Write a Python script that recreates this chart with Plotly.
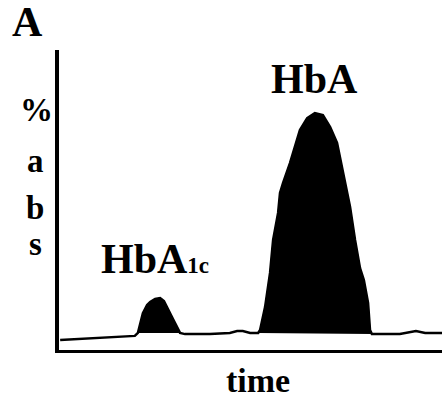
import plotly.graph_objects as go

# Chromatogram trace (time in arbitrary units, absorbance in %)
time = [0.3, 10.7, 19.8, 20.6, 21.4, 21.9, 23.0, 23.8, 25.1, 26.4, 27.4, 28.5, 29.5, 30.3, 31.1, 31.6,
        32.9, 39.4, 44.6, 46.5, 48.0, 49.9, 52.0, 52.5, 53.8, 55.1, 55.9, 57.2, 57.7, 58.5, 60.3,
        62.9, 64.8, 66.8, 68.9, 70.8, 72.6, 74.2, 76.0, 77.3, 78.6, 79.6, 80.7, 81.2, 81.7,
        89.0, 91.6, 93.2, 95.6, 100.0]
absorbance = [3.3, 4.0, 4.7, 5.7, 9.3, 12.3, 15.0, 16.0, 17.0, 17.3, 16.3, 13.3, 11.0, 9.0, 6.7, 5.7,
              5.3, 5.3, 5.7, 6.3, 6.3, 5.7, 5.7, 6.7, 14.3, 25.7, 36.7, 45.7, 52.3, 55.7, 62.3,
              73.3, 77.3, 79.0, 78.3, 74.3, 69.0, 59.0, 47.7, 36.7, 27.3, 23.3, 15.7, 6.7, 5.3,
              5.3, 6.0, 6.3, 5.7, 5.7]

peak_names = ["HbA1c", "HbA"]
peak_windows = [(20.6, 31.6), (52.0, 81.7)]

FONT = "Liberation Serif"

fig = go.Figure()
for (t0, t1) in peak_windows:
    px = [t for t in time if t0 <= t <= t1]
    py = [a for t, a in zip(time, absorbance) if t0 <= t <= t1]
    fig.add_trace(go.Scatter(x=px, y=py, mode="lines", fill="toself",
                             fillcolor="black", line=dict(color="black", width=1),
                             hoverinfo="skip", showlegend=False))
fig.add_trace(go.Scatter(x=time, y=absorbance, mode="lines",
                         line=dict(color="black", width=2.5), showlegend=False))

def label(text, x, y, size, xref="x", yref="y"):
    fig.add_annotation(text=text, x=x, y=y, xref=xref, yref=yref, showarrow=False,
                       xanchor="center", yanchor="middle",
                       font=dict(family=FONT, size=size, color="black", weight="bold"))

label("HbA", 66.8, 90.3, 42)
label("HbA<span style='font-size:23px'>1c</span>", 25.1, 30.5, 42)
label("A", -0.083, 1.095, 42, "paper", "paper")
label("%", -0.060, 0.80, 33, "paper", "paper")
label("a", -0.062, 0.63, 33, "paper", "paper")
label("b", -0.062, 0.475, 33, "paper", "paper")
label("s", -0.062, 0.355, 33, "paper", "paper")
label("time", 0.52, -0.10, 34, "paper", "paper")

fig.update_layout(
    width=442, height=398,
    margin=dict(l=59, r=0, t=50, b=48),
    paper_bgcolor="white", plot_bgcolor="white",
    xaxis=dict(range=[0, 100], showgrid=False, zeroline=False, showticklabels=False,
               ticks="", showline=True, linecolor="black", linewidth=3),
    yaxis=dict(range=[0, 100], showgrid=False, zeroline=False, showticklabels=False,
               ticks="", showline=True, linecolor="black", linewidth=4),
)

fig.write_html("out.html", config={"displayModeBar": False})
